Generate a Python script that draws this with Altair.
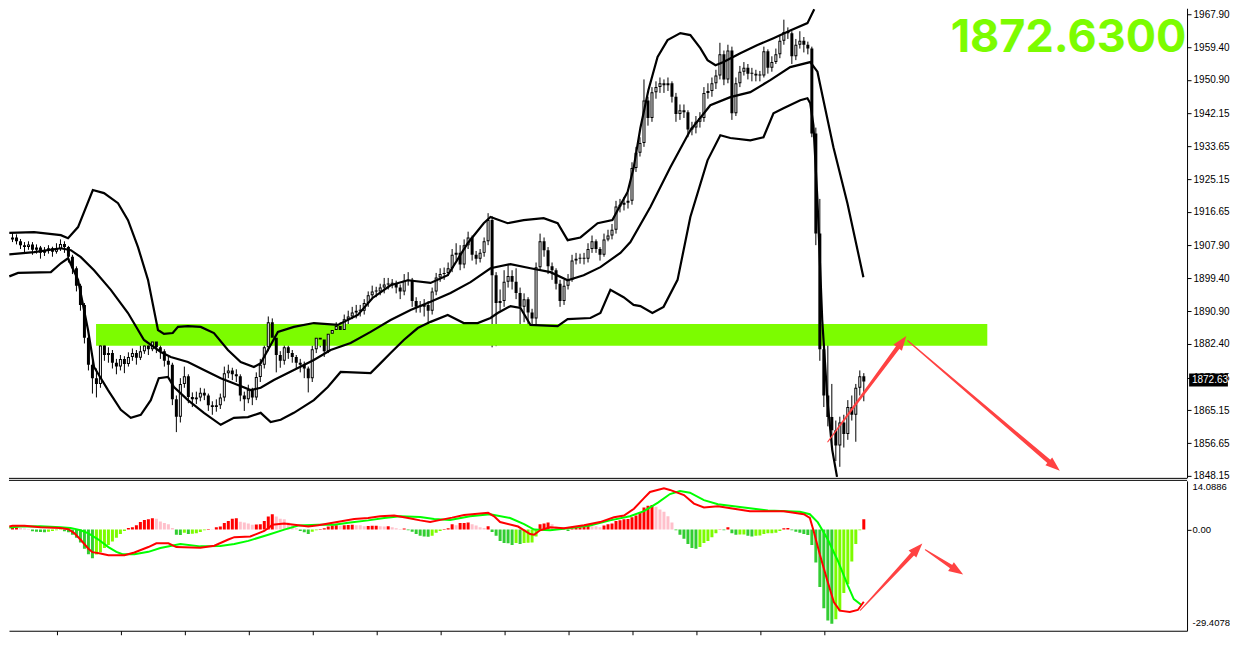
import math
import altair as alt
import pandas as pd

# ---------------- data ----------------
first_open = 1906.5
closes = [
    1907.5, 1909.5, 1910.0, 1909.0, 1908.0, 1907.5, 1908.2, 1906.8, 1907.4, 1906.0,
    1906.6, 1907.2, 1906.3, 1907.0, 1908.3, 1907.5, 1905.0, 1902.0, 1897.5, 1892.5,
    1884.0, 1877.0, 1873.5, 1872.0, 1882.0, 1879.5, 1880.0, 1877.5, 1876.5, 1878.5,
    1877.2, 1879.0, 1880.0, 1878.8, 1880.5, 1882.0, 1881.0, 1883.0, 1881.5, 1880.5,
    1878.0, 1877.0, 1868.0, 1863.5, 1872.0, 1874.0, 1868.6, 1868.0, 1868.5, 1869.7,
    1869.0, 1866.5, 1866.0, 1866.5, 1868.5, 1874.8, 1875.5, 1874.5, 1874.0, 1869.0,
    1868.0, 1870.5, 1868.5, 1873.8, 1877.0, 1881.5, 1888.0, 1884.0, 1879.5, 1878.0,
    1881.5, 1880.0, 1879.0, 1877.5, 1877.0, 1876.0, 1873.5, 1881.0, 1884.0, 1883.5,
    1880.5, 1885.0, 1886.0, 1887.0, 1886.0, 1888.8, 1889.5, 1890.5, 1891.0, 1891.0,
    1893.0, 1895.0, 1896.0, 1896.0, 1897.0, 1897.8, 1898.0, 1898.0, 1897.0, 1896.0,
    1898.8, 1899.0, 1893.5, 1892.0, 1892.0, 1892.5, 1891.0, 1896.0, 1899.6, 1900.5,
    1900.8, 1902.0, 1905.5, 1906.0, 1903.0, 1908.0, 1910.0, 1905.5, 1904.5, 1906.0,
    1909.0, 1914.5, 1900.2, 1893.0, 1893.5, 1898.5, 1900.0, 1898.5, 1895.6, 1892.0,
    1894.0, 1890.5, 1889.0, 1902.3, 1909.0, 1906.7, 1902.5, 1901.5, 1898.0, 1893.5,
    1897.5, 1899.0, 1904.0, 1904.5, 1904.5, 1904.5, 1907.0, 1909.0, 1907.0, 1905.5,
    1909.5, 1910.5, 1912.0, 1918.0, 1918.5, 1919.0, 1919.5, 1928.0, 1932.0, 1934.5,
    1945.5, 1941.0, 1947.7, 1949.0, 1950.0, 1949.5, 1950.0, 1946.5, 1942.0, 1943.0,
    1942.5, 1938.0, 1938.5, 1940.0, 1941.0, 1947.5, 1948.0, 1950.0, 1952.0, 1957.5,
    1951.0, 1958.5, 1942.2, 1950.0, 1953.0, 1954.0, 1952.5, 1952.5, 1952.0, 1952.0,
    1958.3, 1954.0, 1955.5, 1957.5, 1961.0, 1963.3, 1963.0, 1957.0, 1960.0, 1961.0,
    1960.0, 1959.0, 1937.0, 1911.0, 1881.0, 1869.0, 1863.4, 1860.0, 1856.0, 1862.0,
    1859.0, 1866.0, 1864.0, 1871.0, 1874.0, 1872.63]
highs = [
    1908.5, 1911.0, 1911.2, 1910.8, 1909.6, 1908.8, 1909.0, 1908.8, 1908.2, 1907.8,
    1907.5, 1908.0, 1907.6, 1908.5, 1909.5, 1909.0, 1907.8, 1905.5, 1902.5, 1898.0,
    1893.0, 1884.5, 1878.0, 1876.0, 1884.0, 1883.0, 1881.5, 1880.8, 1878.5, 1879.5,
    1879.2, 1880.2, 1881.2, 1880.8, 1882.0, 1883.5, 1883.0, 1886.0, 1884.0, 1882.5,
    1881.0, 1879.0, 1877.5, 1869.0, 1873.5, 1876.5, 1874.5, 1869.8, 1870.0, 1871.0,
    1870.8, 1869.5, 1867.5, 1868.0, 1869.5, 1876.5, 1877.0, 1876.2, 1875.8, 1874.5,
    1870.0, 1871.8, 1871.0, 1875.0, 1878.5, 1883.0, 1889.5, 1889.0, 1884.8, 1880.5,
    1882.8, 1882.0, 1880.8, 1879.5, 1878.5, 1877.8, 1876.5, 1882.0, 1885.2, 1885.0,
    1884.0, 1886.5, 1887.5, 1888.0, 1888.0, 1890.0, 1891.0, 1892.0, 1892.5, 1892.5,
    1894.0, 1896.0, 1897.5, 1897.2, 1898.0, 1899.5, 1899.5, 1899.2, 1898.8, 1897.8,
    1900.5, 1901.0, 1899.5, 1894.5, 1893.5, 1894.0, 1893.5, 1897.0, 1900.8, 1902.0,
    1902.2, 1903.5, 1907.0, 1908.5, 1908.0, 1909.5, 1911.5, 1910.5, 1906.5, 1907.0,
    1910.0, 1916.3, 1915.5, 1901.0, 1896.5, 1901.5, 1903.0, 1901.5, 1902.0, 1897.0,
    1895.5, 1894.5, 1891.5, 1903.5, 1911.0, 1910.0, 1907.5, 1903.5, 1902.0, 1899.0,
    1899.0, 1900.5, 1905.5, 1906.0, 1905.8, 1906.0, 1908.5, 1910.5, 1909.5, 1907.5,
    1911.0, 1912.0, 1913.5, 1919.5, 1920.0, 1920.5, 1921.5, 1929.5, 1933.5, 1936.0,
    1951.0, 1946.5, 1949.0, 1950.5, 1951.5, 1951.0, 1951.5, 1950.5, 1947.5, 1944.5,
    1944.5, 1943.0, 1940.0, 1941.5, 1942.5, 1949.0, 1950.0, 1951.5, 1953.5, 1960.5,
    1958.5, 1960.0, 1959.5, 1951.5, 1954.5, 1955.5, 1955.0, 1954.0, 1953.5, 1953.2,
    1959.5, 1958.8, 1957.0, 1959.0, 1962.5, 1966.5, 1964.5, 1963.5, 1961.5, 1963.5,
    1962.0, 1960.8, 1959.5, 1938.5, 1920.0, 1886.0, 1887.0, 1872.0, 1862.5, 1863.5,
    1864.0, 1867.8, 1869.0, 1872.0, 1875.5, 1874.8]
lows = [
    1905.5, 1907.0, 1908.8, 1908.2, 1907.0, 1906.0, 1906.8, 1905.5, 1905.8, 1904.5,
    1905.2, 1905.8, 1905.0, 1905.8, 1906.5, 1906.0, 1903.5, 1900.5, 1896.0, 1891.0,
    1882.5, 1875.5, 1869.5, 1868.5, 1871.0, 1878.0, 1877.5, 1876.0, 1874.5, 1875.5,
    1874.8, 1876.5, 1878.0, 1877.0, 1878.2, 1879.8, 1879.5, 1880.5, 1880.0, 1878.5,
    1876.5, 1874.0, 1866.5, 1859.5, 1862.0, 1871.0, 1867.0, 1866.0, 1866.8, 1867.5,
    1867.8, 1865.0, 1864.0, 1864.8, 1865.5, 1867.5, 1873.5, 1873.0, 1872.5, 1867.5,
    1865.0, 1867.0, 1866.5, 1867.8, 1872.5, 1876.0, 1880.5, 1882.0, 1875.0, 1876.2,
    1877.0, 1878.5, 1877.5, 1876.0, 1875.0, 1873.5, 1869.8, 1872.5, 1880.0, 1881.5,
    1879.0, 1880.0, 1884.0, 1885.0, 1884.5, 1885.0, 1887.5, 1888.8, 1889.0, 1889.5,
    1890.0, 1892.0, 1894.0, 1894.5, 1895.0, 1895.5, 1896.5, 1896.8, 1895.5, 1894.0,
    1895.0, 1897.5, 1892.0, 1890.5, 1890.5, 1889.5, 1885.0, 1890.0, 1895.0, 1898.5,
    1899.0, 1900.0, 1901.0, 1904.0, 1901.5, 1902.0, 1907.0, 1904.0, 1903.0, 1903.5,
    1905.0, 1908.0, 1881.5, 1881.8, 1891.0, 1892.0, 1897.0, 1896.5, 1894.0, 1884.5,
    1888.0, 1887.0, 1886.5, 1887.5, 1901.5, 1905.0, 1900.5, 1899.0, 1896.5, 1892.0,
    1892.5, 1896.5, 1898.5, 1903.0, 1903.2, 1903.0, 1903.5, 1906.0, 1906.0, 1904.0,
    1905.0, 1909.0, 1909.5, 1911.0, 1916.5, 1917.0, 1917.5, 1918.5, 1927.0, 1931.0,
    1933.5, 1939.0, 1940.0, 1946.0, 1947.5, 1947.5, 1948.0, 1945.0, 1940.0, 1940.5,
    1941.0, 1936.0, 1936.5, 1937.0, 1938.5, 1940.0, 1946.0, 1946.5, 1948.5, 1951.0,
    1949.5, 1950.0, 1940.5, 1941.5, 1949.0, 1952.0, 1951.0, 1950.5, 1950.5, 1950.5,
    1951.5, 1952.5, 1953.0, 1955.0, 1956.5, 1960.0, 1961.5, 1955.0, 1956.0, 1959.0,
    1958.0, 1957.5, 1936.0, 1908.0, 1878.0, 1866.0, 1861.0, 1856.5, 1852.0, 1850.5,
    1855.5, 1857.5, 1862.5, 1857.0, 1869.0, 1867.5]

# Bollinger bands (bar index, price), read where they are visible
upper_k = [1.2, 7.4, 14.1, 15.9, 18.4, 22.1, 24.9, 28.4, 30.9, 33.4, 35.9, 38.4, 39.9, 42.1,
           43.4, 45.9, 49.1, 52.4, 55.9, 59.1, 62.4, 64.1, 65.9, 68.4, 72.4, 77.4, 83.4, 88.4,
           92.1, 96.6, 100.9, 106.6, 110.9, 115.9, 119.9, 121.6, 125.9, 129.9, 134.9, 138.4,
           140.9, 144.1, 148.4, 152.1, 154.1, 155.9, 157.4, 159.1, 161.1, 163.4, 165.9, 169.1,
           171.6, 174.1, 175.9, 177.9, 179.9, 184.1, 188.4, 192.4, 196.6, 200.9, 202.6]
upper_v = [1911.2, 1911.4, 1910.6, 1909.8, 1912.7, 1922.3, 1921.5, 1918.9, 1914.5, 1907.5,
           1899.0, 1886.0, 1885.0, 1885.2, 1886.8, 1887.0, 1886.8, 1885.2, 1880.8, 1877.7,
           1876.4, 1877.4, 1880.8, 1885.5, 1886.8, 1887.8, 1887.3, 1889.9, 1894.3, 1897.6,
           1898.9, 1898.2, 1900.2, 1908.5, 1913.7, 1915.3, 1913.7, 1914.5, 1915.0, 1913.7,
           1909.3, 1910.0, 1913.7, 1914.5, 1918.4, 1921.8, 1928.0, 1938.4, 1948.2, 1956.8,
           1961.2, 1963.0, 1962.5, 1959.1, 1956.0, 1954.7, 1955.5, 1957.8, 1959.9, 1961.7,
           1963.7, 1965.6, 1969.2]
mid_k = [1.2, 7.4, 14.1, 16.6, 19.1, 22.4, 26.6, 30.9, 34.9, 39.1, 41.6, 45.9, 49.9, 54.1,
         58.4, 61.6, 64.1, 67.4, 72.4, 77.4, 81.6, 86.6, 91.6, 96.6, 101.6, 106.6, 111.6,
         116.6, 121.6, 126.6, 131.6, 136.6, 140.9, 144.9, 149.1, 154.1, 156.6, 161.6, 166.6,
         171.6, 176.6, 181.6, 186.6, 191.6, 196.6, 201.6, 203.4, 204.9, 207.4, 210.9, 214.9]
mid_v = [1905.6, 1906.2, 1907.2, 1906.7, 1904.9, 1901.5, 1896.4, 1890.4, 1883.4, 1880.3,
         1879.0, 1877.7, 1875.6, 1873.5, 1871.7, 1870.4, 1871.0, 1873.0, 1875.6, 1878.2,
         1880.8, 1882.6, 1885.5, 1888.6, 1891.2, 1893.3, 1895.6, 1898.4, 1902.0, 1903.1,
         1902.0, 1901.0, 1898.9, 1900.2, 1902.3, 1906.0, 1908.8, 1917.9, 1928.2, 1937.8,
         1944.3, 1946.4, 1947.7, 1950.8, 1954.2, 1955.5, 1953.0, 1945.6, 1933.4, 1918.9,
         1899.7]
lower_k = [1.2, 3.4, 11.6, 14.1, 15.9, 18.4, 20.9, 22.4, 25.9, 29.1, 31.6, 34.1, 36.6, 38.6,
           40.9, 42.4, 45.9, 49.9, 54.1, 57.4, 60.9, 64.1, 66.6, 69.1, 72.4, 77.4, 80.9, 84.1,
           91.6, 94.1, 96.6, 99.9, 103.4, 106.6, 110.9, 112.4, 114.9, 118.4, 121.6, 123.4,
           126.6, 129.1, 131.6, 138.4, 140.9, 146.6, 149.1, 151.6, 154.9, 157.4, 159.1, 162.1,
           164.9, 168.4, 171.6, 175.9, 179.1, 181.6, 186.6, 189.9, 192.4, 194.9, 199.1, 200.9,
           201.6, 202.4, 203.4, 204.6, 205.9, 207.1, 208.3]
lower_v = [1899.9, 1900.8, 1901.0, 1903.3, 1904.6, 1899.0, 1886.0, 1876.4, 1870.4, 1865.3,
           1863.2, 1864.0, 1867.8, 1873.5, 1873.8, 1871.2, 1867.8, 1864.5, 1861.4, 1863.2,
           1863.4, 1864.5, 1862.1, 1862.7, 1864.5, 1867.8, 1871.2, 1875.1, 1874.8, 1877.4,
           1880.0, 1883.4, 1886.5, 1888.1, 1889.9, 1889.1, 1887.8, 1887.8, 1889.1, 1890.4,
           1892.2, 1891.7, 1887.3, 1887.0, 1888.8, 1889.1, 1890.4, 1896.4, 1894.5, 1892.5,
           1892.2, 1890.4, 1892.0, 1899.0, 1915.3, 1930.0, 1936.5, 1935.8, 1935.2, 1936.0,
           1942.2, 1943.5, 1945.6, 1946.1, 1944.8, 1939.1, 1919.7, 1888.6, 1867.8, 1854.9,
           1847.9]

# MACD histogram, one value per bar
hist = [
    -0.4, 0.3, 0.5, 0.6, 0.5, 0.3, 0.2, -0.5, -0.6, -0.7,
    -0.75, -0.6, -0.4, -0.2, -0.1, -0.5, -0.8, -1.5, -2.4, -3.8,
    -5.6, -7.2, -8.4, -7.3, -6.6, -5.4, -4.5, -3.5, -2.4, -1.3,
    -0.4, 0.5, 0.7, 1.3, 2.2, 2.8, 3.0, 3.3, 3.2, 2.4,
    1.9, 1.6, 0.5, -1.5, -1.6, -0.9, -1.3, -1.2, -1.1, -0.7,
    -0.2, 0.2, 0.1, 0.7, 0.9, 1.9, 2.5, 3.2, 3.3, 2.3,
    2.1, 1.8, 1.4, 1.5, 1.6, 2.5, 3.8, 4.5, 3.8, 3.2,
    3.0, 2.1, 1.2, 0.4, -0.4, -0.8, -1.3, -0.6, -0.2, 0.2,
    0.4, 0.9, 1.2, 1.3, 1.2, 1.3, 1.35, 1.4, 1.3, 1.25,
    1.0, 1.05, 1.1, 1.15, 1.0, 0.9, 1.0, 0.7, 0.4, 0.2,
    0.3, -0.2, -0.6, -1.3, -1.8, -2.0, -2.1, -1.8, -0.9, -0.4,
    0.2, 0.4, 1.6, 1.3, 1.9, 1.95, 2.1, 1.6, 1.2, 0.7,
    0.5, 1.0, -0.7, -1.8, -3.3, -3.9, -4.0, -4.5, -3.9, -4.2,
    -3.9, -3.85, -3.8, -2.0, 1.6, 1.8, 2.1, 1.6, 0.9, 0.5,
    0.4, -0.4, 0.4, 0.5, 0.7, 0.9, 1.2, 1.0, 0.95, 0.7,
    1.2, 1.6, 1.8, 2.5, 2.7, 3.0, 3.1, 3.6, 4.1, 5.0,
    6.5, 7.0, 7.2, 6.7, 5.9, 5.2, 3.9, 2.1, -0.2, -1.5,
    -2.7, -4.2, -5.4, -5.6, -5.1, -3.9, -3.3, -2.2, -1.1, 0.1,
    -0.2, 0.7, -1.1, -1.5, -1.45, -1.4, -1.8, -2.0, -1.8, -1.75,
    -1.3, -1.1, -1.05, -0.9, -0.4, 0.4, 0.45, -0.2, -0.6, -0.9,
    -1.3, -1.6, -4.5, -9.6, -16.8, -23.0, -26.6, -27.5, -26.2, -23.9,
    -18.5, -15.9, -9.3, -4.2, -0.2, 3.0]

# MACD main line (red) and signal line (green): (bar index, value)
macd_k = [1.2, 2, 5, 9, 14, 16, 17.5, 19, 21, 22, 24, 26, 30, 32.5, 36, 38, 41, 43, 49, 52.5,
          56, 57.5, 61.5, 63, 65, 66.3, 67, 70, 72.5, 76, 78.5, 82.5, 87.5, 91, 94, 97.5, 101,
          104, 106.5, 108.5, 112, 115, 121, 122.5, 124, 128.5, 131.5, 132.5, 134, 136.5, 140,
          145, 149, 152.5, 155, 157.5, 160, 161.5, 165, 166.5, 170, 172.5, 175, 178.5, 182.5,
          186.5, 195, 200, 201.5, 202.5, 204, 206, 207.5, 209, 211.5, 213.5, 215]
macd_v = [0.9, 1.1, 1.1, 0.7, 0.5, 0.1, -1.1, -2.9, -5.6, -6.6, -7.0, -7.5, -7.5, -6.7, -5.1,
          -4.0, -4.0, -5.1, -5.3, -4.7, -2.9, -2.2, -2.0, -1.3, -0.4, 0.7, 1.4, 1.8, 1.4, 0.9,
          1.3, 2.1, 3.1, 3.4, 3.9, 4.1, 3.4, 2.7, 2.2, 2.7, 3.5, 4.3, 4.9, 3.9, 2.2, 0.9, -1.3,
          -1.5, -0.2, 0.7, 0.4, 1.3, 2.2, 3.6, 4.1, 6.1, 9.2, 11.0, 12.1, 11.6, 10.1, 7.6, 6.5,
          6.8, 6.1, 5.4, 5.4, 4.5, 3.4, -0.6, -7.3, -15.4, -21.2, -23.7, -24.1, -23.5, -21.1]
signal_k = [1.2, 4, 9, 14, 16.5, 19, 21, 23.5, 26, 28, 29.5, 32.5, 36, 39, 44, 49, 54, 57.5, 61,
            66, 70, 73.5, 78.5, 82.5, 86.5, 91, 95, 99, 104, 107.5, 111.5, 116.5, 121.5, 126.5,
            130, 132.5, 136.5, 141, 146.5, 151.5, 156.5, 160, 163.5, 166.5, 169, 171.5, 175,
            178.5, 182.5, 191, 199, 201.5, 203.5, 206, 208.5, 211, 212.5, 214.5]
signal_v = [0.6, 0.9, 1.0, 0.7, 0.5, -0.2, -1.1, -2.9, -5.1, -6.5, -7.2, -7.2, -6.5, -5.4,
            -4.2, -4.9, -4.8, -4.2, -3.3, -1.5, 0.0, 1.2, 1.4, 1.4, 2.1, 2.7, 3.4, 3.9, 3.7,
            3.1, 2.8, 3.9, 4.5, 3.4, 1.6, 0.0, -0.2, 0.4, 1.2, 2.7, 3.9, 5.4, 7.9, 10.4, 11.3,
            10.8, 8.6, 7.4, 6.8, 5.6, 5.2, 4.5, 2.1, -2.9, -9.1, -16.3, -20.3, -22.1]

# annotations
zone_k = [22.9, 245.9]
zone_price = [1881.9, 1887.55]
price_arrows = [[206.0, 1857.0, 225.6, 1884.4], [226.0, 1883.2, 264.0, 1849.5]]
macd_arrows = [[214.1, -23.6, 229.6, -4.1], [230.4, -5.9, 239.8, -13.1]]
price_ticks = [1967.90, 1959.40, 1950.90, 1942.15, 1933.65, 1925.15, 1916.65, 1907.90,
               1899.40, 1890.90, 1882.40, 1873.65, 1865.15, 1856.65, 1848.15]
macd_labels = ["14.0886", "0.00", "-29.4078"]
time_ticks = [13 + 16 * j for j in range(13)]
last_price = closes[-1]

# ---------------- layout / scales ----------------
W, H1, H2 = 1179, 470, 150
X_DOMAIN = [1.125, 1.125 + W / 4]
P_DOMAIN = [1847.63, 1969.46]
M_DOMAIN = [-29.57, 14.25]
PX_K = W / (X_DOMAIN[1] - X_DOMAIN[0])
PX_P = H1 / (P_DOMAIN[1] - P_DOMAIN[0])
PX_M = H2 / (M_DOMAIN[1] - M_DOMAIN[0])
FONT = "Liberation Sans"
LIME = "#7CFC00"
ARROW = "#ff4242"

xs = alt.Scale(domain=X_DOMAIN, nice=False, zero=False, padding=0)
ps = alt.Scale(domain=P_DOMAIN, nice=False, zero=False, padding=0)
ms = alt.Scale(domain=M_DOMAIN, nice=False, zero=False, padding=0)

price_axis = alt.Axis(orient="right", values=price_ticks, format=".2f", tickSize=4,
                      tickColor="black", domainColor="black", labelColor="black",
                      labelFont=FONT, labelFontSize=10, labelPadding=2, grid=False,
                      title=None, labelOverlap=False, labelFlush=False)

macd_label_pos = [M_DOMAIN[1] - 6 / PX_M, 0.0, M_DOMAIN[0] + 8 / PX_M]
label_expr = (f"datum.value > 5 ? '{macd_labels[0]}' : "
              f"(datum.value < -5 ? '{macd_labels[2]}' : '{macd_labels[1]}')")
macd_axis = alt.Axis(orient="right", values=macd_label_pos, labelExpr=label_expr,
                     tickSize=4,
                     tickColor={"condition": {"test": "datum.value == 0", "value": "black"},
                                "value": "transparent"},
                     domainColor="black", labelColor="black", labelFont=FONT,
                     labelFontSize=9.5, labelPadding=1, grid=False, title=None,
                     labelOverlap=False, labelFlush=False)
time_axis = alt.Axis(orient="bottom", values=time_ticks, labels=False, tickSize=4,
                     tickColor="black", domainColor="black", grid=False, title=None)


def X(field="k"):          # x in the price panel (no axis)
    return alt.X(f"{field}:Q", scale=xs, axis=None)


def XM(field="k"):         # x in the MACD panel (time ticks)
    return alt.X(f"{field}:Q", scale=xs, axis=time_axis)


def PY(field):
    return alt.Y(f"{field}:Q", scale=ps, axis=price_axis)


def MY(field):
    return alt.Y(f"{field}:Q", scale=ms, axis=macd_axis)


# candles (bars left of the visible edge are not drawn)
opens = [first_open] + closes[:-1]
rows = []
for i in range(2, len(closes)):
    o, c = opens[i], closes[i]
    lo, hi = min(o, c), max(o, c)
    if (hi - lo) * PX_P < 1:
        hi = lo + 1 / PX_P
    rows.append(dict(k=i, h=highs[i], l=lows[i], blo=lo, bhi=hi,
                     inner=(c > o) and (c - o) * PX_P > 2.5))
cdf = pd.DataFrame(rows)

zone = alt.Chart(pd.DataFrame({"k1": [zone_k[0]], "k2": [zone_k[1]],
                               "p1": [zone_price[0]], "p2": [zone_price[1]]})).mark_rect(
    color=LIME).encode(x=X("k1"), x2="k2:Q", y=PY("p1"), y2="p2:Q")

wicks = alt.Chart(cdf).mark_rule(color="black", strokeWidth=1, clip=True).encode(
    x=X(), y=PY("l"), y2="h:Q")
bodies = alt.Chart(cdf).mark_bar(width=3, color="black", clip=True).encode(
    x=X(), y=PY("bhi"), y2="blo:Q")
inner = alt.Chart(cdf[cdf["inner"]]).mark_bar(width=1, color="white", clip=True,
                                              yOffset=1, y2Offset=-1).encode(
    x=X(), y=PY("bhi"), y2="blo:Q")

band_rows = []
for name, ks, vs in (("upper", upper_k, upper_v), ("mid", mid_k, mid_v),
                     ("lower", lower_k, lower_v)):
    for kk, vv in zip(ks, vs):
        band_rows.append(dict(band=name, k=kk, v=vv))
bands = alt.Chart(pd.DataFrame(band_rows)).mark_line(
    color="black", strokeWidth=2.2, clip=True).encode(x=X(), y=PY("v"), detail="band:N")


def arrow_frames(arrows, pxv, w0, w1):
    trail, heads = [], []
    for aid, (k1, v1, k2, v2) in enumerate(arrows):
        dx = (k2 - k1) * PX_K
        dy = -(v2 - v1) * pxv
        L = math.hypot(dx, dy)
        ux, uy = dx / L, dy / L
        ang = math.degrees(math.atan2(dx, -dy)) % 360
        ke, ve = k2 - 9 * ux / PX_K, v2 + 9 * uy / pxv
        kc, vc = k2 - 7 * ux / PX_K, v2 + 7 * uy / pxv
        trail.append(dict(aid=aid, k=k1, v=v1, w=w0, o=0))
        trail.append(dict(aid=aid, k=ke, v=ve, w=w1, o=1))
        heads.append(dict(aid=aid, k=kc, v=vc, ang=ang))
    return pd.DataFrame(trail), pd.DataFrame(heads)


HEAD = "M0,-1L0.72,1L-0.72,1Z"


def arrow_layers(arrows, pxv, xch, ych, w0, w1):
    tdf, hdf = arrow_frames(arrows, pxv, w0, w1)
    t = alt.Chart(tdf).mark_trail(color=ARROW).encode(
        x=xch(), y=ych("v"), size=alt.Size("w:Q", scale=None, legend=None),
        detail="aid:N", order="o:Q")
    h = alt.Chart(hdf).mark_point(shape=HEAD, filled=True, size=210, color=ARROW,
                                  opacity=1, strokeWidth=0).encode(
        x=xch(), y=ych("v"), angle=alt.Angle("ang:Q", scale=None))
    return [t, h]


big = alt.Chart(pd.DataFrame({"k": [295.7], "v": [1958.0]})).mark_text(
    text=f"{last_price:.4f}", font="Inter", fontWeight="bold", fontSize=45, color=LIME,
    align="right", baseline="alphabetic").encode(x=X(), y=PY("v"))

box = alt.Chart(pd.DataFrame({"k1": [296.4], "k2": [306.1], "p1": [1871.35],
                              "p2": [1874.72]})).mark_rect(color="black").encode(
    x=X("k1"), x2="k2:Q", y=PY("p1"), y2="p2:Q")
box_text = alt.Chart(pd.DataFrame({"k": [297.1], "v": [1873.0]})).mark_text(
    text=f"{last_price:.2f}", font=FONT, fontSize=10, color="white", align="left",
    baseline="middle").encode(x=X(), y=PY("v"))

one = pd.DataFrame({"z": [0]})
main_bottom = alt.Chart(one).mark_rule(color="black", strokeWidth=1).encode(
    x=alt.value(0), x2=alt.value(W), y=alt.value(H1 + 0.5))

main = alt.layer(wicks, zone, bodies, inner, bands,
                 *arrow_layers(price_arrows, PX_P, X, PY, 1.2, 4.5),
                 big, main_bottom, box, box_text).properties(width=W, height=H1)

# MACD panel
hcols = []
prev = None
for v in hist:
    if v >= 0:
        hcols.append("#FF0000" if (prev is None or v >= prev) else "#FFC0CB")
    else:
        hcols.append("#32CD32" if (prev is not None and v < prev) else LIME)
    prev = v
hdf = pd.DataFrame({"k": list(range(len(hist))), "h": hist, "base": 0.0, "col": hcols})
hdf = hdf[hdf["k"] >= 2]

hbars = alt.Chart(hdf).mark_bar(width=3, clip=True).encode(
    x=XM(), y=MY("h"), y2="base:Q", color=alt.Color("col:N", scale=None))

line_rows = []
for name, ks, vs in (("macd", macd_k, macd_v), ("signal", signal_k, signal_v)):
    for kk, vv in zip(ks, vs):
        line_rows.append(dict(s=name, k=kk, v=vv))
ldf = pd.DataFrame(line_rows)
sig_line = alt.Chart(ldf[ldf["s"] == "signal"]).mark_line(
    color="#00FF00", strokeWidth=2, clip=True).encode(x=XM(), y=MY("v"))
macd_line = alt.Chart(ldf[ldf["s"] == "macd"]).mark_line(
    color="#FF0000", strokeWidth=2, clip=True).encode(x=XM(), y=MY("v"))

macd_top = alt.Chart(one).mark_rule(color="black", strokeWidth=1).encode(
    x=alt.value(0), x2=alt.value(W), y=alt.value(-0.5))

macd = alt.layer(hbars, sig_line, macd_line,
                 *arrow_layers(macd_arrows, PX_M, XM, MY, 1.0, 4.5),
                 macd_top).properties(width=W, height=H2)

chart = alt.vconcat(main, macd, spacing=3, bounds="flush", padding=0).configure_view(
    strokeWidth=0, stroke="transparent")

chart.save("out.html", embed_options={"renderer": "svg", "actions": False})
